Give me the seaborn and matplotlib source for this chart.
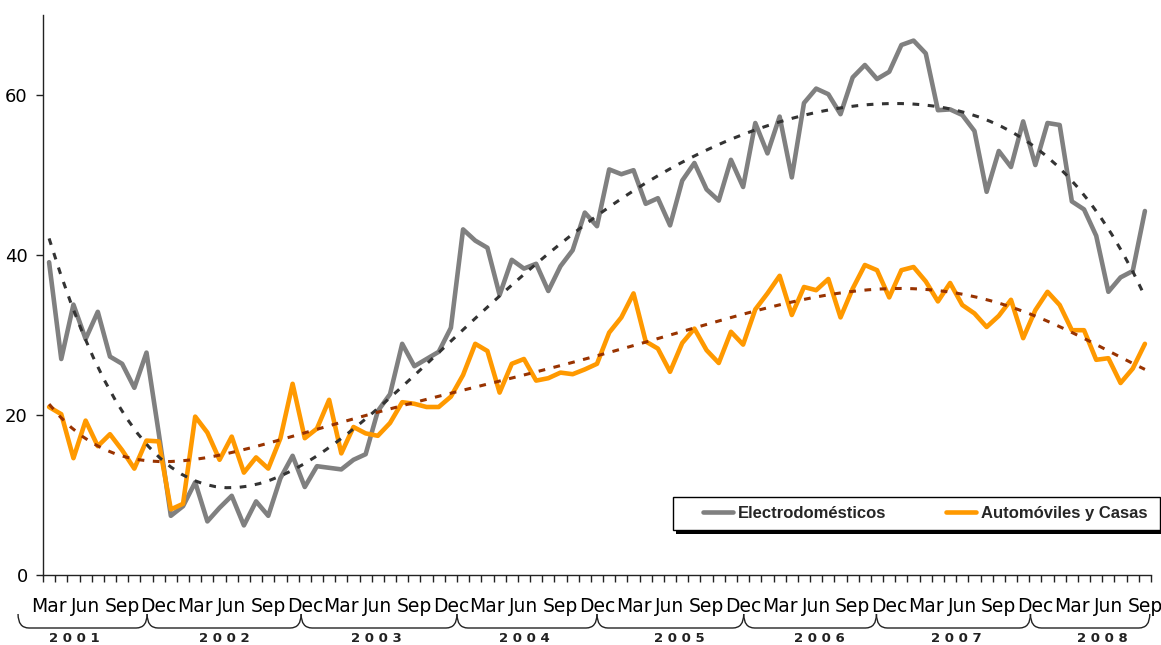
import numpy as np
import pandas as pd
import matplotlib
matplotlib.use("Agg")
import matplotlib.pyplot as plt
import matplotlib.transforms as mtransforms
from matplotlib.path import Path
from matplotlib.patches import PathPatch, Rectangle
from matplotlib.lines import Line2D
import seaborn as sns

# ---------------- data (monthly, Mar 2001 .. Sep 2008) ----------------
electro = [39.1, 27.0, 33.8, 29.5, 32.9, 27.3, 26.4, 23.4, 27.8, 17.8,
           7.4, 8.6, 11.6, 6.7, 8.4, 9.9, 6.2, 9.2, 7.4, 12.1,
           14.9, 11.0, 13.6, 13.4, 13.2, 14.4, 15.1, 20.5, 22.6, 28.9,
           26.1, 27.0, 27.9, 30.9, 43.2, 41.8, 40.9, 35.0, 39.4, 38.3,
           38.9, 35.5, 38.6, 40.6, 45.3, 43.6, 50.7, 50.1, 50.6, 46.4,
           47.1, 43.7, 49.3, 51.5, 48.2, 46.8, 51.9, 48.5, 56.5, 52.7,
           57.3, 49.7, 59.0, 60.8, 60.1, 57.6, 62.2, 63.75, 62.0, 62.9,
           66.25, 66.8, 65.2, 58.1, 58.2, 57.5, 55.5, 47.9, 53.0, 51.0,
           56.7, 51.25, 56.5, 56.25, 46.7, 45.7, 42.4, 35.4, 37.2, 38.0,
           45.5]
autos = [21.0, 20.1, 14.6, 19.3, 16.1, 17.6, 15.6, 13.3, 16.8, 16.7,
         8.2, 8.9, 19.8, 17.8, 14.4, 17.3, 12.8, 14.7, 13.3, 17.1,
         23.9, 17.1, 18.3, 21.9, 15.2, 18.5, 17.7, 17.4, 19.0, 21.6,
         21.4, 21.0, 21.0, 22.3, 25.0, 28.9, 28.0, 22.8, 26.4, 27.0,
         24.3, 24.6, 25.3, 25.1, 25.7, 26.4, 30.3, 32.2, 35.2, 29.2,
         28.3, 25.4, 29.0, 30.8, 28.1, 26.5, 30.4, 28.8, 33.2, 35.2,
         37.4, 32.5, 36.0, 35.6, 37.0, 32.2, 35.8, 38.75, 38.1, 34.7,
         38.1, 38.5, 36.7, 34.2, 36.5, 33.75, 32.7, 31.0, 32.4, 34.4,
         29.6, 33.1, 35.4, 33.75, 30.6, 30.6, 26.9, 27.1, 24.0, 25.8,
         28.9]
series_names = ["Electrodomésticos", "Automóviles y Casas"]
quarter_names = ["Mar", "Jun", "Sep", "Dec"]
years = ["2001", "2002", "2003", "2004", "2005", "2006", "2007", "2008"]
y_ticks = [0, 20, 40, 60]

# layout constants (month-index units) for the year braces
brace_edges = [-2.55, 8.05, 20.7, 33.5, 45.0, 57.05, 67.95, 80.6, 90.4]
year_label_x = [2.1, 14.4, 26.9, 39.0, 51.8, 63.3, 74.5, 86.5]

# ---------------- figure ----------------
sns.set_theme(style="white")
plt.rcParams['font.family'] = ['Liberation Sans Narrow', 'DejaVu Sans']

W, H = 1161, 645
fig = plt.figure(figsize=(W / 100, H / 100), dpi=100)
ax = fig.add_axes([43 / W, 70 / H, 1108 / W, 560 / H])

n = len(electro)
df = pd.DataFrame({"idx": np.arange(n), "electro": electro, "autos": autos})

sns.lineplot(data=df, x="idx", y="electro", color="#808080", lw=3.3, ax=ax, zorder=3)
sns.lineplot(data=df, x="idx", y="autos", color="#FF9900", lw=3.3, ax=ax, zorder=4)
sns.regplot(data=df, x="idx", y="electro", order=6, scatter=False, ci=None, ax=ax,
            line_kws=dict(color="#333333", lw=2.2, ls=(0, (2.2, 2.8)), zorder=5))
sns.regplot(data=df, x="idx", y="autos", order=6, scatter=False, ci=None, ax=ax,
            line_kws=dict(color="#993300", lw=2.2, ls=(0, (2.2, 2.8)), zorder=6))

ax.set_xlim(-0.5, n - 0.5)
ax.set_ylim(0, 70)
ax.set_xlabel("")
ax.set_ylabel("")
for s in ["top", "right"]:
    ax.spines[s].set_visible(False)
for s in ["left", "bottom"]:
    ax.spines[s].set_color("#222222")
    ax.spines[s].set_linewidth(1.0)

ax.set_yticks(y_ticks)
ax.set_yticklabels([str(v) for v in y_ticks])
ax.tick_params(axis="y", left=True, length=5, width=1, color="#222222", pad=6,
               labelsize=13, labelcolor="black")

major = np.arange(0, n, 3)
labels = [quarter_names[k % 4] for k in range(len(major))]
ax.set_xticks(major)
ax.set_xticklabels(labels)
ax.set_xticks(np.arange(-0.5, n, 1), minor=True)
ax.tick_params(axis="x", which="major", bottom=True, length=0, pad=16, labelsize=13.5,
               labelcolor="black")
ax.tick_params(axis="x", which="minor", bottom=True, length=5, width=1, color="#222222")

# ---------------- year braces ----------------
tr = mtransforms.blended_transform_factory(ax.transData, fig.transFigure)
y_top = 1 - 614 / H
y_bot = 1 - 628 / H
r = 0.9
for a, b in zip(brace_edges[:-1], brace_edges[1:]):
    verts = [(a, y_top), (a, y_bot), (a + r, y_bot),
             (b - r, y_bot),
             (b, y_bot), (b, y_top)]
    codes = [Path.MOVETO, Path.CURVE3, Path.CURVE3, Path.LINETO, Path.CURVE3, Path.CURVE3]
    ax.add_patch(PathPatch(Path(verts, codes), transform=tr, fill=False,
                           edgecolor="#222222", lw=1.0, clip_on=False))
for xl, yr in zip(year_label_x, years):
    ax.text(xl, 1 - 639 / H, " ".join(yr), transform=tr, ha="center", va="center",
            fontsize=9.5, fontweight="bold", family="DejaVu Sans", color="#222222",
            clip_on=False)

# ---------------- legend box with shadow ----------------
bx0, by0, bw, bh = 673 / W, 1 - 530 / H, 487 / W, 33 / H
fig.add_artist(Rectangle((bx0 + 3 / W, by0 - 4 / H), bw, bh, transform=fig.transFigure,
                         facecolor="black", edgecolor="black", lw=0, zorder=3))
fig.add_artist(Rectangle((bx0, by0), bw, bh, transform=fig.transFigure,
                         facecolor="white", edgecolor="black", lw=1.0, zorder=4))
handles = [Line2D([], [], color="#808080", lw=3.3),
           Line2D([], [], color="#FF9900", lw=3.3)]
leg = fig.legend(handles, series_names, loc="center left",
                 bbox_to_anchor=(703 / W, 1 - 513.5 / H), bbox_transform=fig.transFigure,
                 frameon=False, ncol=2, handlelength=1.8, handletextpad=0.3,
                 columnspacing=3.6, borderpad=0, borderaxespad=0,
                 prop=dict(family="Liberation Sans", weight="bold", size=12))
leg.set_zorder(6)

fig.savefig("out.png", dpi=100)
